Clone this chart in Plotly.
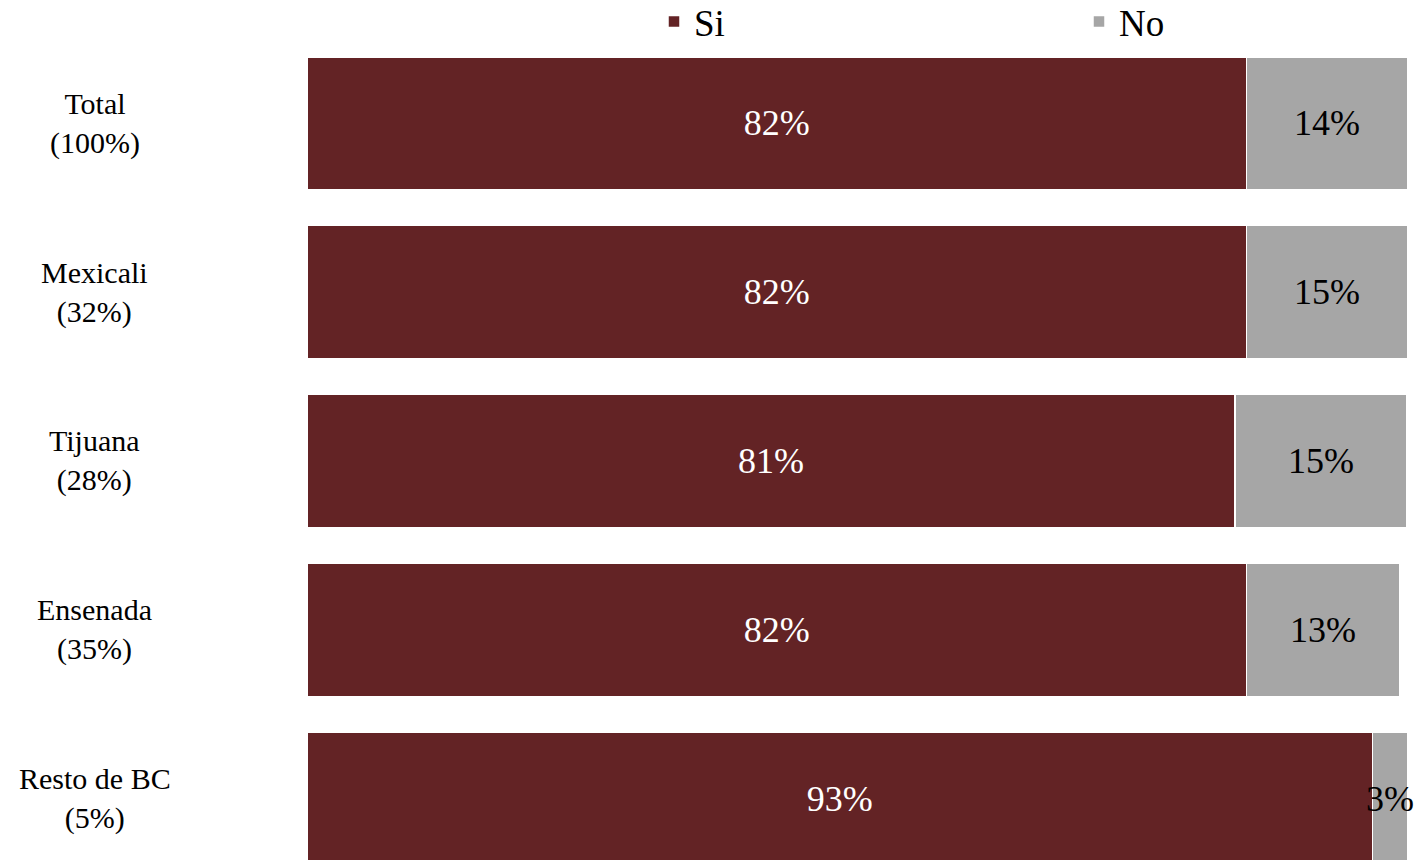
import plotly.graph_objects as go

categories = ["Total<br>(100%)", "Mexicali<br>(32%)", "Tijuana<br>(28%)", "Ensenada<br>(35%)", "Resto de BC<br>(5%)"]
si_values = [82, 82, 81, 82, 93]
no_values = [14.4, 15, 15, 13.4, 3.4]
series_names = ["Si", "No"]
colors = ["#632325", "#A6A6A6"]

FONT = "Liberation Serif"
X_MAX = 96

fig = go.Figure()
fig.add_trace(go.Bar(
    y=categories, x=si_values, name=series_names[0], orientation="h",
    marker=dict(color=colors[0], line=dict(color="white", width=1.5)),
    texttemplate="%{x:.0f}%", textposition="inside", insidetextanchor="middle",
    textangle=0, textfont=dict(family=FONT, size=36, color="white"), constraintext="none",
    hoverinfo="skip", legend="legend",
))
fig.add_trace(go.Bar(
    y=categories, x=no_values, name=series_names[1], orientation="h",
    marker=dict(color=colors[1], line=dict(color="white", width=1.5)),
    hoverinfo="skip", legend="legend2",
))

# labels for the "No" segments, centred on the visible part of each segment
for c, s, n in zip(categories, si_values, no_values):
    end = min(s + n, X_MAX)
    fig.add_annotation(x=(s + end) / 2, xref="x", y=c, yref="y", text=f"{round(n)}%",
                       showarrow=False, xanchor="center", yanchor="middle",
                       font=dict(family=FONT, size=36, color="black"))

for c in categories:
    fig.add_annotation(x=-0.193, xref="paper", y=c, yref="y", text=c,
                       showarrow=False, xanchor="center", yanchor="middle", align="center",
                       font=dict(family=FONT, size=30, color="black"))

legend_common = dict(orientation="h", y=1.0207, yanchor="middle",
                     font=dict(family=FONT, size=37, color="black"),
                     bgcolor="rgba(0,0,0,0)", xanchor="left")

fig.update_layout(
    width=1416, height=860,
    margin=dict(l=307, r=9, t=39, b=0, autoexpand=False),
    barmode="stack", bargap=0.212,
    plot_bgcolor="white", paper_bgcolor="white",
    xaxis=dict(range=[0, X_MAX], visible=False, fixedrange=True),
    yaxis=dict(range=[4.364, -0.5], showticklabels=False, showgrid=False,
               zeroline=False, showline=False, ticks="", fixedrange=True),
    showlegend=True,
    legend=dict(x=(654 - 307) / 1100, **legend_common),
    legend2=dict(x=(1079 - 307) / 1100, **legend_common),
)

fig.write_html("out.html", config={"displayModeBar": False},
               post_script="document.body.style.margin='0';document.body.style.overflow='hidden';")
